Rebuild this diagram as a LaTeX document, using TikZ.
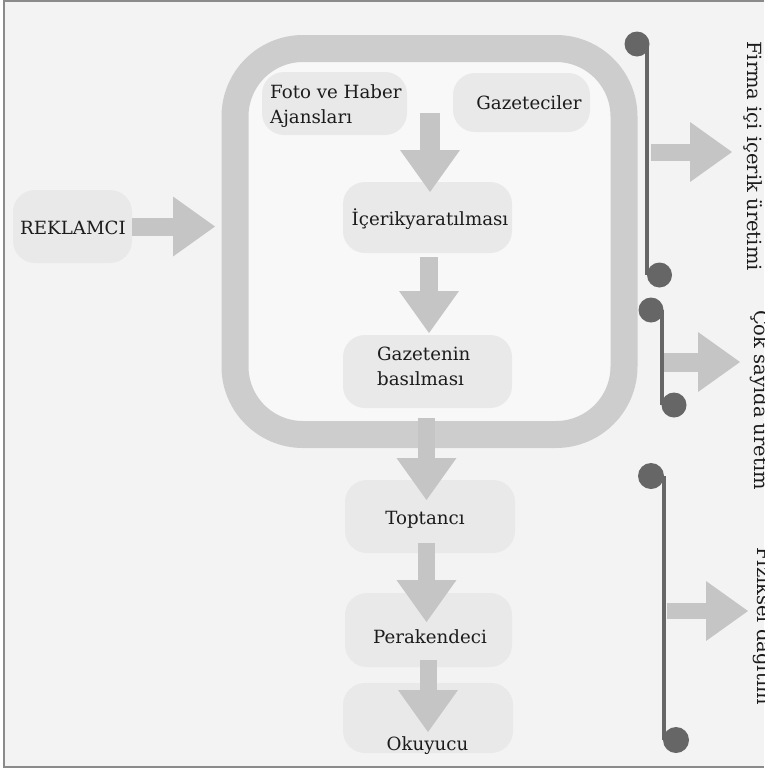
\documentclass[tikz,border=0pt]{standalone}
\usepackage{fontspec}
\setmainfont{DejaVu Serif}
\usetikzlibrary{arrows.meta}
\definecolor{bgc}{HTML}{F3F3F3}
\definecolor{innerc}{HTML}{F8F8F8}
\definecolor{bandc}{HTML}{CDCDCD}
\definecolor{arrowc}{HTML}{C5C5C5}
\definecolor{nodefill}{HTML}{E9E9E9}
\definecolor{barc}{HTML}{666666}
\definecolor{framec}{HTML}{8A8A8A}
\definecolor{txt}{HTML}{1C1C1C}
\tikzset{
  box/.style={rectangle, rounded corners=22pt, fill=nodefill, draw=none, inner sep=0pt},
  lbl/.style={font=\fontsize{18.2}{25}\selectfont, text=txt, inner sep=0pt},
  sidelbl/.style={font=\fontsize{19.5}{22}\selectfont, text=txt, rotate=-90, anchor=base, inner sep=0pt},
  bigarrow/.style={draw=arrowc, line width=#1, -{Triangle[width=60pt,length=42pt,line width=0pt]}},
  bigarrow/.default=18pt,
  sidebar/.style={draw=barc, line width=3.5pt},
  knob/.style={fill=barc}
}
\begin{document}
\begin{tikzpicture}[x=1pt,y=-1pt]
\useasboundingbox (0,0) rectangle (764,769);
\clip (0,0) rectangle (764,769);
% background and frame
\fill[white] (0,0) rectangle (764,769);
\fill[bgc] (4,1) rectangle (764,767);
\draw[framec, line width=2pt] (764,1) -- (4,1) -- (4,767) -- (764,767);

% big rounded frame
\draw[bandc, line width=27pt, rounded corners=68pt, fill=innerc] (235,48.5) rectangle (624,434.5);

% boxes
\node[box, minimum width=119pt, minimum height=73pt] (rek) at (72.5,226.5) {};
\node[box, minimum width=145pt, minimum height=63pt] (foto) at (334.5,103.5) {};
\node[box, minimum width=137pt, minimum height=59pt] (gaz) at (521.5,102.5) {};
\node[box, minimum width=169pt, minimum height=71pt] (icerik) at (427.5,217.5) {};
\node[box, minimum width=169pt, minimum height=73pt] (basim) at (427.5,371.5) {};
\node[box, minimum width=170pt, minimum height=73pt] (top) at (430,516.5) {};
\node[box, minimum width=167pt, minimum height=74pt] (perak) at (428.5,630) {};
\node[box, minimum width=170pt, minimum height=70pt] (oku) at (428,718) {};

% arrow coordinates
\coordinate (tipA) at (215,226.5);
\coordinate (srcB) at (430,113);
\coordinate (tipB) at (430,192);
\coordinate (srcC) at (429,257);
\coordinate (tipC) at (429,333);
\coordinate (srcD) at (426.5,418);
\coordinate (tipD) at (426.5,500);
\coordinate (srcE) at (426.5,543);
\coordinate (tipE) at (426.5,622);
\coordinate (srcF) at (428,660);
\coordinate (tipF) at (428,732);
\coordinate (src1) at (651,152);
\coordinate (tip1) at (732,152);
\coordinate (src2) at (664,362);
\coordinate (tip2) at (740,362);
\coordinate (src3) at (667,611);
\coordinate (tip3) at (748,611);

% block arrows
\draw[bigarrow] (rek.east) -- (tipA);
\draw[bigarrow=20pt] (srcB) -- (tipB);
\draw[bigarrow] (srcC) -- (tipC);
\draw[bigarrow=17pt] (srcD) -- (tipD);
\draw[bigarrow=17pt] (srcE) -- (tipE);
\draw[bigarrow=17pt] (srcF) -- (tipF);
\draw[bigarrow=17pt] (src1) -- (tip1);
\draw[bigarrow=19pt] (src2) -- (tip2);
\draw[bigarrow=16pt] (src3) -- (tip3);

% texts
\node[lbl, anchor=base] (rekt) at (73,234) {REKLAMCI};
\node[lbl, anchor=base west] (foto1) at (270,98) {Foto ve Haber};
\node[lbl, anchor=base west] (foto2) at (270,123) {Ajansları};
\node[lbl, anchor=base] (gazt) at (529,109.5) {Gazeteciler};
\node[lbl, anchor=base] (icerikt) at (430,225) {İçerikyaratılması};
\node[lbl, anchor=base west] (basim1) at (377,360) {Gazetenin};
\node[lbl, anchor=base west] (basim2) at (377,385) {basılması};
\node[lbl, anchor=base] (topt) at (425,524) {Toptancı};
\node[lbl, anchor=base] (perakt) at (430,643) {Perakendeci};
\node[lbl, anchor=base] (okut) at (427.5,750) {Okuyucu};

% side bars
\draw[sidebar] (647,44) -- (647,275);
\fill[knob] (637,44) circle[radius=12.5pt];
\fill[knob] (659.5,275) circle[radius=12.5pt];
\draw[sidebar] (662,310) -- (662,405);
\fill[knob] (651,310) circle[radius=12.5pt];
\fill[knob] (674,405) circle[radius=12.5pt];
\draw[sidebar] (664,476) -- (664,740);
\fill[knob] (651,476) circle[radius=13pt];
\fill[knob] (676,740) circle[radius=13pt];

% side labels
\node[sidelbl] (s1) at (747,156) {Firma içi içerik üretimi};
\node[sidelbl] (s2) at (754,400) {Çok sayıda üretim};
\node[sidelbl] (s3) at (757,626) {Fiziksel dağıtım};
\end{tikzpicture}
\end{document}
